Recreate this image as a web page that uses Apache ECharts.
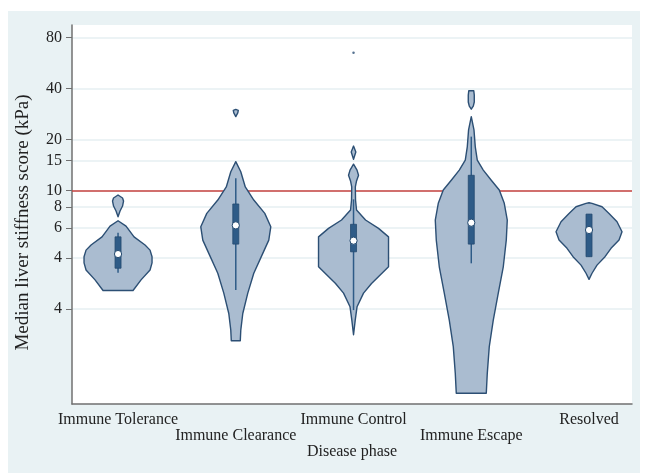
<!DOCTYPE html>
<html><head><meta charset="utf-8">
<script src="https://cdn.jsdelivr.net/npm/echarts@6/dist/echarts.min.js"></script>
<style>
html,body{margin:0;padding:0;background:#fff;}
#c{position:absolute;left:8px;top:11px;width:632px;height:462px;background:#e9f2f4;}
</style>
</head><body><div id="c"></div>
<script>
// ---------------- data ----------------
const categories = ['Immune Tolerance', 'Immune Clearance', 'Immune Control', 'Immune Escape', 'Resolved'];
const yTickValues = [2, 4, 6, 8, 10, 15, 20, 40, 80];
const yTickLabels = ['4', '4', '6', '8', '10', '15', '20', '40', '80'];
const referenceLine = 10;

// [lower whisker, q1, median, q3, upper whisker] (kPa)
const boxTolerance = [3.27, 3.48, 4.22, 5.33, 5.63];
const boxClearance = [2.59, 4.83, 6.23, 8.33, 11.8];
const boxControl   = [1.97, 4.35, 5.06, 6.32, 8.87];
const boxEscape    = [3.72, 4.83, 6.46, 12.3, 20.8];
const boxResolved  = [4.07, 4.07, 5.85, 7.26, 7.26];

// outside values [category index (1-based), kPa]
const outliers = [[3, 65.1]];

// violin density profiles: pieces of [kPa, relative density]
const violinTolerance = [
  [[9.41, 0], [9.03, 4.5], [8.67, 5.5], [8.10, 4.5], [7.57, 2], [7.00, 0]],
  [[6.63, 0], [6.17, 8], [5.33, 16], [4.77, 27], [4.45, 32], [4.07, 34], [3.74, 34], [3.40, 32], [2.97, 23], [2.57, 15]]
];
const violinClearance = [
  [[30.1, 0], [29.7, 2.5], [28.7, 2], [27.3, 0]],
  [[14.8, 0], [12.9, 5], [10.5, 9.5], [8.79, 18], [7.33, 29], [6.11, 35], [5.10, 33], [4.26, 27], [3.25, 18], [2.48, 12], [1.88, 7], [1.50, 5], [1.30, 4.5]]
];
const violinControl = [
  [[18.3, 0], [16.9, 2.3], [15.3, 0]],
  [[14.3, 0], [13.2, 3.5], [12.3, 5], [11.4, 3], [10.5, 1.8], [8.79, 2], [7.67, 3], [6.70, 12], [5.98, 25], [5.33, 35], [3.55, 35], [2.83, 18], [2.48, 10], [2.06, 3.5], [1.72, 1.7], [1.41, 0]]
];
const violinEscape = [
  [[38.8, 2.5], [36.6, 3], [33.3, 3], [31.5, 2], [30.2, 0]],
  [[27.3, 0], [22.8, 2.7], [18.1, 4], [15.1, 6], [13.2, 12], [11.5, 20], [10.07, 28], [8.40, 33], [6.70, 36], [5.10, 35], [3.55, 32], [2.48, 27], [1.72, 22], [1.20, 18], [0.834, 16], [0.636, 15]]
];
const violinResolved = [
  [[8.47, 0], [8.40, 3], [8.02, 13], [7.33, 20], [6.54, 28], [5.71, 33], [5.10, 30], [4.56, 22], [4.07, 16], [3.63, 8], [3.25, 3], [2.99, 0]]
];

// ---------------- chart ----------------
const boxes = [boxTolerance, boxClearance, boxControl, boxEscape, boxResolved];
const violins = [violinTolerance, violinClearance, violinControl, violinEscape, violinResolved];
const DENSITY_TO_X = 1 / 117.75;
const FONT = 'Liberation Serif, Times New Roman, serif';
const VIOLIN_FILL = '#aabcd0';
const VIOLIN_STROKE = '#2c4f74';
const BOX_FILL = '#2e5b87';
const X_MIN = 0.609, X_MAX = 5.365;

const chart = echarts.init(document.getElementById('c'), null, {renderer: 'canvas'});

function renderViolin(params, api) {
  const gi = params.dataIndex;
  const xc = api.value(0);
  const children = [];
  violins[gi].forEach(function (piece) {
    const left = [], right = [];
    piece.forEach(function (p) {
      const w = p[1] * DENSITY_TO_X;
      left.push(api.coord([xc - w, p[0]]));
      right.push(api.coord([xc + w, p[0]]));
    });
    const pts = left.concat(right.reverse());
    children.push({
      type: 'polygon',
      shape: {points: pts},
      style: {fill: VIOLIN_FILL, stroke: VIOLIN_STROKE, lineWidth: 1.4, lineJoin: 'round'}
    });
  });
  return {type: 'group', children: children};
}

function renderBox(params, api) {
  const gi = params.dataIndex;
  const xc = api.value(0);
  const b = boxes[gi];
  const pLo = api.coord([xc, b[0]]);
  const pQ1 = api.coord([xc, b[1]]);
  const pMed = api.coord([xc, b[2]]);
  const pQ3 = api.coord([xc, b[3]]);
  const pHi = api.coord([xc, b[4]]);
  const bw = 6;
  return {
    type: 'group',
    children: [
      {type: 'line', shape: {x1: pLo[0], y1: pLo[1], x2: pHi[0], y2: pHi[1]},
       style: {stroke: BOX_FILL, lineWidth: 1.5}},
      {type: 'rect', shape: {x: pQ3[0] - bw / 2, y: pQ3[1], width: bw, height: pQ1[1] - pQ3[1]},
       style: {fill: BOX_FILL, stroke: '#244a70', lineWidth: 0.8}},
      {type: 'circle', shape: {cx: pMed[0], cy: pMed[1], r: 3.6},
       style: {fill: '#ffffff', stroke: '#244a70', lineWidth: 1}}
    ]
  };
}

const groupData = categories.map(function (c, i) { return [i + 1, boxes[i][2]]; });

function catLabel(v) { return categories[Math.round(v) - 1]; }

const option = {
  animation: false,
  textStyle: {fontFamily: FONT},
  grid: {left: 64, top: 14, right: 8, bottom: 69, show: true, backgroundColor: '#ffffff', borderWidth: 0, outerBoundsMode: 'none', containLabel: false},
  xAxis: [{
    type: 'value',
    min: X_MIN,
    max: X_MAX,
    name: 'Disease phase',
    nameLocation: 'middle',
    nameGap: 40,
    nameMoveOverlap: false,
    nameTextStyle: {fontFamily: FONT, fontSize: 16, color: '#222'},
    axisLine: {show: true, lineStyle: {color: '#707070', width: 1.5}},
    axisTick: {show: false},
    splitLine: {show: false},
    axisLabel: {
      customValues: [1, 3, 5],
      showMinLabel: true, showMaxLabel: true, hideOverlap: false,
      fontFamily: FONT, fontSize: 16, color: '#222', margin: 8,
      formatter: catLabel
    }
  }, {
    type: 'value',
    position: 'bottom',
    offset: 0,
    min: X_MIN,
    max: X_MAX,
    axisLine: {show: false},
    axisTick: {show: false},
    splitLine: {show: false},
    axisLabel: {
      customValues: [2, 4],
      showMinLabel: true, showMaxLabel: true, hideOverlap: false,
      fontFamily: FONT, fontSize: 16, color: '#222', margin: 24,
      formatter: catLabel
    }
  }],
  yAxis: {
    type: 'log',
    logBase: 10,
    min: 0.55,
    max: 94.8,
    name: 'Median liver stiffness score (kPa)',
    nameLocation: 'middle',
    nameGap: 39,
    nameMoveOverlap: false,
    nameRotate: 90,
    nameTextStyle: {fontFamily: FONT, fontSize: 19, color: '#222', padding: [0, 16, 0, 0]},
    axisLine: {show: true, lineStyle: {color: '#707070', width: 1.5}},
    axisTick: {show: true, customValues: yTickValues, length: 6, lineStyle: {color: '#707070', width: 1}},
    axisLabel: {
      customValues: yTickValues,
      showMinLabel: true,
      showMaxLabel: true,
      fontFamily: FONT, fontSize: 16, color: '#222', margin: 10,
      formatter: function (v) {
        const i = yTickValues.findIndex(function (t) { return Math.abs(t - v) < 1e-6; });
        return i >= 0 ? yTickLabels[i] : '';
      }
    },
    splitLine: {show: true, lineStyle: {color: '#e6eff2', width: 1.5}},
    minorSplitLine: {show: false}
  },
  series: [
    {
      type: 'custom',
      name: 'violin',
      coordinateSystem: 'cartesian2d',
      xAxisIndex: 0,
      renderItem: renderViolin,
      encode: {x: 0, y: 1},
      data: groupData,
      z: 3,
      markLine: {
        silent: true,
        symbol: ['none', 'none'],
        label: {show: false},
        lineStyle: {color: '#c8433f', width: 1.6, type: 'solid'},
        data: [{yAxis: referenceLine}],
        z: 2
      }
    },
    {
      type: 'custom',
      name: 'box',
      coordinateSystem: 'cartesian2d',
      xAxisIndex: 0,
      renderItem: renderBox,
      encode: {x: 0, y: 1},
      data: groupData,
      z: 5
    },
    {
      type: 'scatter',
      name: 'outside values',
      xAxisIndex: 0,
      data: outliers,
      symbol: 'circle',
      symbolSize: 2.5,
      itemStyle: {color: '#2c4f74'},
      z: 6
    }
  ]
};
chart.setOption(option);
</script>
</body></html>
